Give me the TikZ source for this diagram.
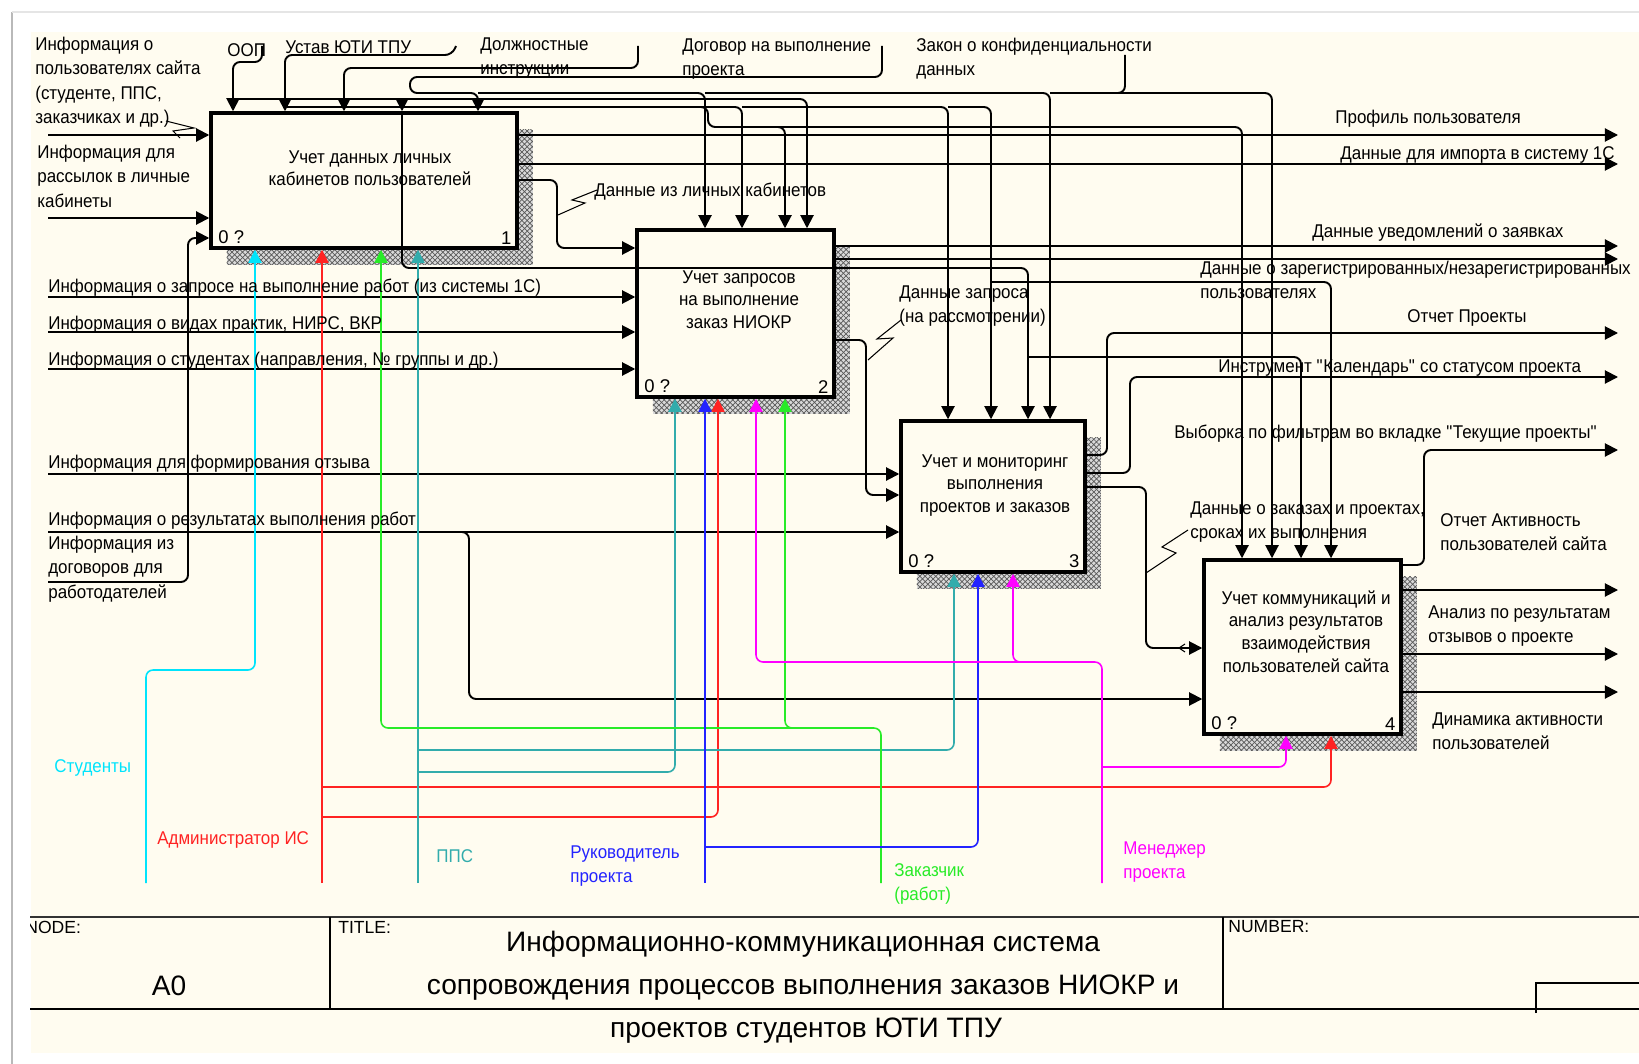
\documentclass[tikz,border=0pt]{standalone}
\usepackage{fontspec}
\setmainfont{Liberation Sans}
\newfontfamily\lblfont[FakeStretch=0.92]{Liberation Sans}
\usetikzlibrary{arrows.meta,patterns,shadows}

\definecolor{paper}{RGB}{255,252,240}
\definecolor{stud}{RGB}{0,228,252}
\definecolor{admin}{RGB}{255,35,35}
\definecolor{pps}{RGB}{50,172,172}
\definecolor{ruk}{RGB}{35,35,255}
\definecolor{zak}{RGB}{40,235,40}
\definecolor{mng}{RGB}{255,0,255}

\begin{document}
\begin{tikzpicture}[x=0.02cm,y=-0.02cm,
    fn/.style={draw,line width=2pt,fill=paper,inner sep=0,
        general shadow={shadow xshift=9pt,shadow yshift=-9.5pt,fill=black!15,
            postaction={pattern=crosshatch,pattern color=black!65}}},
    fntxt/.style={font=\lblfont\fontsize{10.5}{13}\selectfont,align=center,anchor=north,inner sep=0,execute at begin node=\strut},
    lbl/.style={font=\lblfont\fontsize{10.5}{13.8}\selectfont,align=left,anchor=north west,inner sep=0,execute at begin node=\strut},
    num/.style={font=\fontsize{10.5}{12}\selectfont,inner sep=0},
    ln/.style={line width=1.1pt,rounded corners=4pt},
    arr/.style={ln,-{Triangle[length=7.5pt,width=7.5pt]}},
    mech/.style={line width=0.9pt,rounded corners=4pt,-{Triangle[length=7.5pt,width=7.5pt]}},
    lead/.style={line width=0.6pt}]

    % sheet
    \clip (0,0) rectangle (1639,1064);
    \fill[white] (0,0) rectangle (1639,1064);
    \fill[paper] (31,32) rectangle (1639,1053);
    \draw[gray!55,line width=1.5pt] (12,1064) -- (12,12);
    \draw[gray!20,line width=1.2pt] (12,12) -- (1639,12);

    % functions
    \node[fn,minimum width=6.12cm,minimum height=2.7cm] (b1) at (364,180.5) {};
    \node[fn,minimum width=3.94cm,minimum height=3.34cm] (b2) at (735.5,313.5) {};
    \node[fn,minimum width=3.68cm,minimum height=3.02cm] (b3) at (993,496.5) {};
    \node[fn,minimum width=3.94cm,minimum height=3.48cm] (b4) at (1302.5,647) {};

    \node[fntxt] (b1t) at (370,150) {Учет данных личных\\кабинетов пользователей};
    \node[fntxt] (b2t) at (739,270) {Учет запросов\\на выполнение\\заказ НИОКР};
    \node[fntxt] (b3t) at (995,454) {Учет и мониторинг\\выполнения\\проектов и заказов};
    \node[fntxt] (b4t) at (1306,590) {Учет коммуникаций и\\анализ результатов\\взаимодействия\\пользователей сайта};

    \foreach \b/\n in {b1/1,b2/2,b3/3,b4/4}{
        \node[num,anchor=south west] (\b q) at ([shift={(5pt,3pt)}]\b.south west) {0 ?};
        \node[num,anchor=south east] (\b n) at ([shift={(-4pt,3pt)}]\b.south east) {\n};
    }

    % controls
    \draw[arr] (262,46) -- (262,62) -- (233,62) -- (233,0 |- b1.north);
    \draw[arr] (233,99) -- (807,99) -- (807,0 |- b2.north);
    \draw[arr] (402,99) -- (402,0 |- b1.north);
    \draw[arr] (402,113) -- (402,268) -- (1028,268) -- (1028,0 |- b3.north);
    \draw[arr] (1028,357) -- (1301,357) -- (1301,0 |- b4.north);

    \draw[arr] (456,46) -- (452,55) -- (285,55) -- (285,0 |- b1.north);
    \draw[arr] (285,107) -- (742,107) -- (742,0 |- b2.north);
    \draw[arr] (742,107) -- (948,107) -- (948,0 |- b3.north);
    \draw[arr] (948,107) -- (991,107) -- (991,0 |- b3.north);
    \draw[arr] (991,282) -- (1331,282) -- (1331,0 |- b4.north);
    \draw[arr] (698,107) -- (708,107) -- (708,127) -- (1242,127) -- (1242,0 |- b4.north);
    \draw[arr] (760,127) -- (785,127) -- (785,0 |- b2.north);

    \draw[arr] (638,46) -- (638,68) -- (344,68) -- (344,0 |- b1.north);

    \draw[arr] (882,46) -- (882,77) -- (410,77) -- (410,93) -- (478,93) -- (478,0 |- b1.north);
    \draw[arr] (478,93) -- (705,93) -- (705,0 |- b2.north);
    \draw[arr] (705,93) -- (1050,93) -- (1050,0 |- b3.north);
    \draw[arr] (1050,93) -- (1272,93) -- (1272,0 |- b4.north);
    \draw[ln] (1125,55) -- (1125,93) -- (1100,93);

    % inputs
    \draw[arr] (48,135) -- (b1.west |- 0,135);
    \draw[arr] (48,218) -- (b1.west |- 0,218);
    \draw[arr] (48,582) -- (188,582) -- (188,238) -- (b1.west |- 0,238);
    \draw[arr] (b1.east |- 0,180) -- (557,180) -- (557,248) -- (b2.west |- 0,248);
    \draw[arr] (48,297) -- (b2.west |- 0,297);
    \draw[arr] (48,332) -- (b2.west |- 0,332);
    \draw[arr] (48,369) -- (b2.west |- 0,369);
    \draw[arr] (48,474) -- (b3.west |- 0,474);
    \draw[arr] (b2.east |- 0,340) -- (866,340) -- (866,495) -- (b3.west |- 0,495);
    \draw[arr] (48,532) -- (b3.west |- 0,532);
    \draw[arr] (455,532) -- (469,532) -- (469,699) -- (b4.west |- 0,699);
    \draw[arr] (b3.east |- 0,487) -- (1146,487) -- (1146,648) -- (b4.west |- 0,648);
    \draw[lead] (1185,644) -- (1179,648) -- (1185,652);

    % outputs
    \draw[arr] (b1.east |- 0,135) -- (1618,135);
    \draw[arr] (b1.east |- 0,164) -- (1618,164);
    \draw[arr] (b2.east |- 0,246) -- (1618,246);
    \draw[arr] (b2.east |- 0,259) -- (1618,259);
    \draw[arr] (b3.east |- 0,455) -- (1107,455) -- (1107,333) -- (1618,333);
    \draw[arr] (b3.east |- 0,473) -- (1130,473) -- (1130,377) -- (1618,377);
    \draw[arr] (b4.east |- 0,565) -- (1424,565) -- (1424,450) -- (1618,450);
    \draw[arr] (b4.east |- 0,590) -- (1618,590);
    \draw[arr] (b4.east |- 0,654) -- (1618,654);
    \draw[arr] (b4.east |- 0,692) -- (1618,692);

    % mechanisms
    \draw[mech,stud] (146,883) -- (146,670) -- (255,670) -- (255,0 |- b1.south);
    \draw[mech,admin] (322,883) -- (322,0 |- b1.south);
    \draw[mech,admin] (322,787) -- (1331,787) -- (1331,0 |- b4.south);
    \draw[mech,admin] (322,817) -- (718,817) -- (718,0 |- b2.south);
    \draw[mech,pps] (418,883) -- (418,0 |- b1.south);
    \draw[mech,pps] (418,750) -- (954,750) -- (954,0 |- b3.south);
    \draw[mech,pps] (418,772) -- (675,772) -- (675,0 |- b2.south);
    \draw[mech,zak] (881,883) -- (881,728) -- (381,728) -- (381,0 |- b1.south);
    \draw[mech,zak] (800,728) -- (785,728) -- (785,0 |- b2.south);
    \draw[mech,ruk] (705,883) -- (705,0 |- b2.south);
    \draw[mech,ruk] (705,847) -- (978,847) -- (978,0 |- b3.south);
    \draw[mech,mng] (1102,883) -- (1102,662) -- (756,662) -- (756,0 |- b2.south);
    \draw[mech,mng] (1028,662) -- (1013,662) -- (1013,0 |- b3.south);
    \draw[mech,mng] (1102,767) -- (1286,767) -- (1286,0 |- b4.south);

    % squiggles
    \draw[lead] (166,121) -- (194,128) -- (173,131) -- (180,138);
    \draw[lead] (558,215) -- (585,203) -- (572,200) -- (597,190);
    \draw[lead] (868,360) -- (893,338) -- (877,339) -- (901,320);
    \draw[lead] (1146,573) -- (1176,553) -- (1162,547) -- (1188,530);

    % arrow labels
    \node[lbl] (l1) at (35,37) {Информация о\\пользователях сайта\\(студенте, ППС,\\заказчиках и др.)};
    \node[lbl] (l2) at (227,39) {ООП};
    \node[lbl] (l3) at (285,36) {Устав ЮТИ ТПУ};
    \node[lbl] (l4) at (480,37) {Должностные\\инструкции};
    \node[lbl] (l5) at (682,38) {Договор на выполнение\\проекта};
    \node[lbl] (l6) at (916,38) {Закон о конфиденциальности\\данных};
    \node[lbl] (l7) at (37,145) {Информация для\\рассылок в личные\\кабинеты};
    \node[lbl] (l8) at (48,275) {Информация о запросе на выполнение работ (из системы 1С)};
    \node[lbl] (l9) at (48,312) {Информация о видах практик, НИРС, ВКР};
    \node[lbl] (l10) at (48,348) {Информация о студентах (направления, № группы и др.)};
    \node[lbl] (l11) at (48,451) {Информация для формирования отзыва};
    \node[lbl] (l12) at (48,508) {Информация о результатах выполнения работ};
    \node[lbl] (l13) at (48,536) {Информация из\\договоров для\\работодателей};
    \node[lbl] (l14) at (594,179) {Данные из личных кабинетов};
    \node[lbl] (l15) at (899,285) {Данные запроса\\(на рассмотрении)};
    \node[lbl] (l16) at (1335,106) {Профиль пользователя};
    \node[lbl] (l17) at (1340,142) {Данные для импорта в систему 1С};
    \node[lbl] (l18) at (1312,220) {Данные уведомлений о заявках};
    \node[lbl] (l19) at (1200,261) {Данные о зарегистрированных/незарегистрированных\\пользователях};
    \node[lbl] (l20) at (1407,305) {Отчет Проекты};
    \node[lbl] (l21) at (1218,355) {Инструмент \textquotedbl Календарь\textquotedbl{} со статусом проекта};
    \node[lbl] (l22) at (1174,421) {Выборка по фильтрам во вкладке \textquotedbl Текущие проекты\textquotedbl};
    \node[lbl] (l23) at (1190,501) {Данные о заказах и проектах,\\сроках их выполнения};
    \node[lbl] (l24) at (1440,513) {Отчет Активность\\пользователей сайта};
    \node[lbl] (l25) at (1428,605) {Анализ по результатам\\отзывов о проекте};
    \node[lbl] (l26) at (1432,712) {Динамика активности\\пользователей};

    \node[lbl,stud] (m1) at (54,755) {Студенты};
    \node[lbl,admin] (m2) at (157,827) {Администратор ИС};
    \node[lbl,pps] (m3) at (436,845) {ППС};
    \node[lbl,ruk] (m4) at (570,845) {Руководитель\\проекта};
    \node[lbl,zak] (m5) at (894,863) {Заказчик\\(работ)};
    \node[lbl,mng] (m6) at (1123,841) {Менеджер\\проекта};

    % title block
    \draw[line width=1.3pt,black!80] (30,917) -- (1639,917);
    \draw[line width=1pt] (30,1009) -- (1639,1009);
    \draw[line width=0.8pt] (330,917) -- (330,1009) (1223,917) -- (1223,1009);
    \draw[line width=0.8pt] (1536,1013) -- (1536,983) -- (1639,983);
    \begin{scope}
        \clip (30,917) rectangle (330,1009);
        \node[num,anchor=west,font=\fontsize{10}{12}\selectfont] (nd) at (25,927) {NODE:};
    \end{scope}
    \node[num,anchor=west,font=\fontsize{10}{12}\selectfont] (ti) at (338,927) {TITLE:};
    \node[num,anchor=west,font=\fontsize{10}{12}\selectfont] (nu) at (1228,927) {NUMBER:};
    \node[font=\fontsize{16}{19}\selectfont,inner sep=0] (a0) at (169,986) {A0};
    \node[font=\fontsize{16}{19}\selectfont,inner sep=0,anchor=base] (tt1) at (803,951) {Информационно-коммуникационная система};
    \node[font=\fontsize{16}{19}\selectfont,inner sep=0,anchor=base] (tt2) at (803,994) {сопровождения процессов выполнения заказов НИОКР и};
    \node[font=\fontsize{16}{19}\selectfont,inner sep=0,anchor=base] (tt3) at (806,1037) {проектов студентов ЮТИ ТПУ};
\end{tikzpicture}
\end{document}
